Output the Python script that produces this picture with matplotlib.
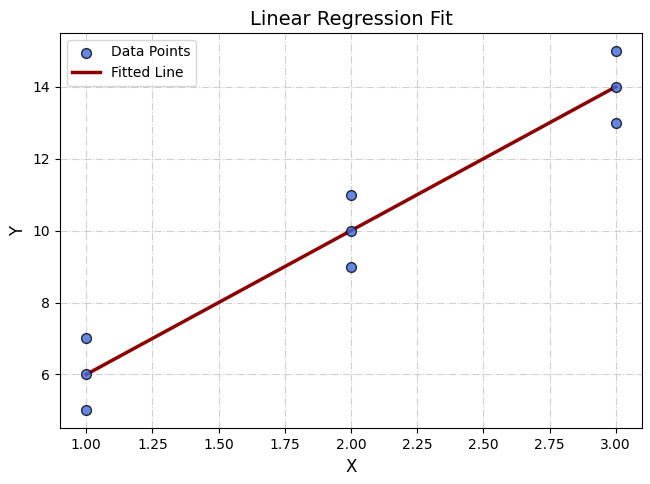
import matplotlib
matplotlib.use("Agg")
from matplotlib import pyplot as plt
import numpy as np

x_vals = [1, 1, 1, 2, 2, 2, 3, 3, 3]
y_vals = [5, 6, 7, 9, 10, 11, 13, 14, 15]
fit_x = [1, 2, 3]
fit_y = [6, 10, 14]

fig, ax = plt.subplots(figsize=(6.5, 4.84), dpi=100)
fig.subplots_adjust(left=0.092, right=0.988, top=0.932, bottom=0.115)

ax.scatter(x_vals, y_vals, s=50, color='royalblue', edgecolor='black',
           alpha=0.8, linewidths=1, label='Data Points', zorder=3)
ax.plot(fit_x, fit_y, color='darkred', linewidth=2.5, label='Fitted Line', zorder=2)

ax.set_title('Linear Regression Fit', fontsize=14)
ax.set_xlabel('X', fontsize=12)
ax.set_ylabel('Y', fontsize=12)
ax.grid(True, linestyle='-.', alpha=0.6)
ax.legend(loc='upper left')

plt.savefig('out.png', dpi=100)
